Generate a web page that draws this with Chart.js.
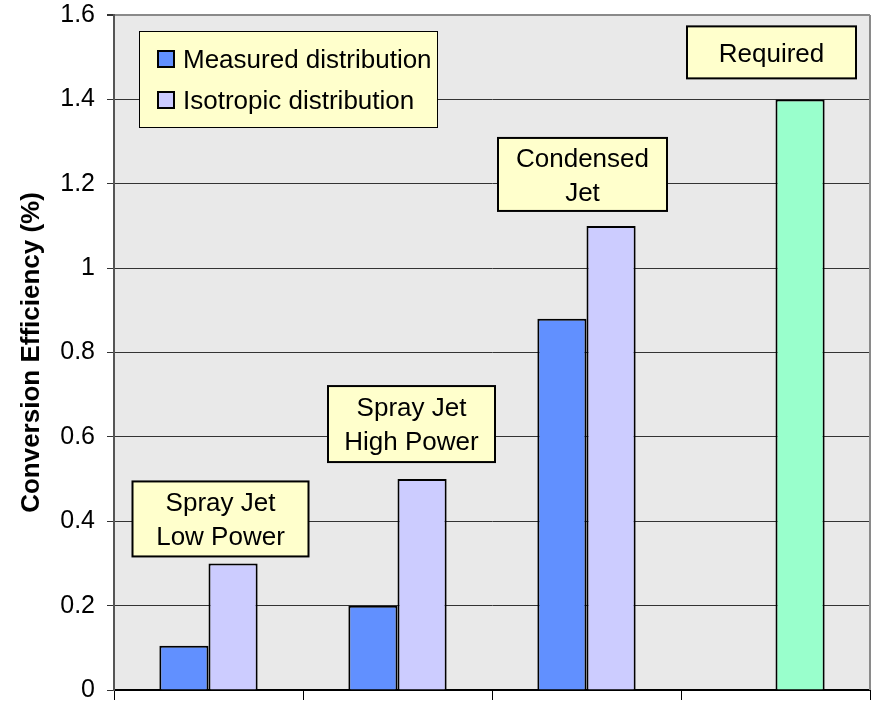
<!DOCTYPE html>
<html lang="en">
<head>
  <meta charset="UTF-8" />
  <title>Conversion Efficiency</title>
  <script src="https://cdn.jsdelivr.net/npm/chart.js"></script>
  <style>
    html, body { margin: 0; padding: 0; background: #fff; }
    #wrap { width: 872px; height: 704px; }
  </style>
</head>
<body>
  <div id="wrap"><canvas id="grafik" width="872" height="704"></canvas></div>

  <script>
    // data
    const categories = [['Spray Jet', 'Low Power'], ['Spray Jet', 'High Power'], ['Condensed', 'Jet'], ['Required']];
    const measured = [0.105, 0.2, 0.88, null];
    const isotropic = [0.3, 0.5, 1.1, 1.4];
    const seriesNames = ['Measured distribution', 'Isotropic distribution'];
    const yTicks = [0, 0.2, 0.4, 0.6, 0.8, 1, 1.2, 1.4, 1.6];

    const FONT = "'Liberation Sans', Arial, sans-serif";
    const BLUE = '#6190FF', LAVENDER = '#CCCCFF', GREEN = '#99FFCC', NOTE = '#FFFFCC';

    // background, right border, legend box and the yellow callouts
    const decor = {
      id: 'decor',
      beforeDraw(chart) {
        const { ctx, chartArea: a } = chart;
        ctx.save();
        ctx.fillStyle = '#E9E9E9';
        ctx.fillRect(a.left, a.top, a.right - a.left, a.bottom - a.top);
        ctx.restore();
      },
      afterDraw(chart, args, opts) {
        const { ctx, chartArea: a, scales } = chart;
        ctx.save();
        // right border
        ctx.strokeStyle = '#8A8A8A';
        ctx.lineWidth = 2;
        ctx.beginPath();
        ctx.moveTo(a.right, a.top);
        ctx.lineTo(a.right, a.bottom);
        ctx.stroke();

        ctx.font = '26px ' + FONT;
        ctx.textBaseline = 'middle';

        // legend
        const lx = a.left + 25, ly = a.top + 16;
        ctx.fillStyle = NOTE;
        ctx.fillRect(lx, ly, 298, 96);
        ctx.strokeStyle = '#000';
        ctx.lineWidth = 1;
        ctx.strokeRect(lx + 0.5, ly + 0.5, 298, 96);
        chart.data.datasets.forEach((ds, i) => {
          const cy = ly + 28 + i * 41;
          ctx.fillStyle = i === 0 ? BLUE : LAVENDER;
          ctx.fillRect(lx + 19, cy - 8, 16, 16);
          ctx.lineWidth = 2;
          ctx.strokeRect(lx + 19, cy - 8, 16, 16);
          ctx.fillStyle = '#000';
          ctx.textAlign = 'left';
          ctx.fillText(ds.label, lx + 44, cy + 2);
        });

        // callouts above each group
        const x = scales.x, y = scales.y;
        ctx.textAlign = 'center';
        chart.data.labels.forEach((lines, i) => {
          const o = opts.notes[i];
          const top = Math.max(measured[i] || 0, isotropic[i] || 0);
          const cx = x.getPixelForValue(i) + o.dx;
          const bottom = y.getPixelForValue(top) - o.gap;
          const h = o.h, w = o.w;
          ctx.fillStyle = NOTE;
          ctx.fillRect(cx - w / 2, bottom - h, w, h);
          ctx.strokeStyle = '#000';
          ctx.lineWidth = 2;
          ctx.strokeRect(cx - w / 2, bottom - h, w, h);
          ctx.fillStyle = '#000';
          const mid = bottom - h / 2 + 2;
          lines.forEach((t, k) => {
            ctx.fillText(t, cx, mid + (k - (lines.length - 1) / 2) * 34);
          });
        });
        ctx.restore();
      }
    };

    const ctx = document.getElementById('grafik').getContext('2d');
    new Chart(ctx, {
      type: 'bar',
      data: {
        labels: categories,
        datasets: [
          { label: seriesNames[0], data: measured, backgroundColor: BLUE, borderColor: '#000', borderWidth: 2 },
          { label: seriesNames[1], data: isotropic,
            backgroundColor: isotropic.map((v, i) => i === isotropic.length - 1 ? GREEN : LAVENDER),
            borderColor: '#000', borderWidth: 2 }
        ]
      },
      options: {
        responsive: false,
        animation: false,
        devicePixelRatio: 1,
        layout: { padding: { top: 15, right: 2, left: 0, bottom: 0 } },
        categoryPercentage: 0.52,
        barPercentage: 1,
        plugins: {
          legend: { display: false },
          tooltip: { enabled: false },
          decor: {
            notes: [
              { dx: 12, gap: 7, w: 176, h: 75 },
              { dx: 14, gap: 17, w: 167, h: 76 },
              { dx: -4, gap: 15, w: 169, h: 73 },
              { dx: -4, gap: 21, w: 169, h: 52 }
            ]
          }
        },
        scales: {
          x: {
            afterFit: s => { s.height = 14; },
            grid: { display: true, drawOnChartArea: false, offset: true, color: '#000', tickLength: 10 },
            border: { color: '#000', width: 2 },
            ticks: { display: false }
          },
          y: {
            min: 0, max: 1.6,
            afterBuildTicks: s => { s.ticks = yTicks.map(v => ({ value: v })); },
            afterFit: s => { s.width = 114; s.paddingTop = 0; s.paddingBottom = 0; },
            grid: {
              color: c => c.tick && c.tick.value === 1.6 ? '#8A8A8A' : '#333',
              lineWidth: c => c.tick && c.tick.value === 1.6 ? 2 : 1,
              tickLength: 7,
              tickColor: '#333'
            },
            border: { color: '#555', width: 2 },
            ticks: {
              color: '#000',
              padding: 12,
              font: { family: FONT, size: 25, lineHeight: 0.4 },
              callback: v => String(v)
            },
            title: {
              display: true,
              text: 'Conversion Efficiency (%)',
              color: '#000',
              font: { family: FONT, size: 26, weight: 'bold' },
              padding: { top: 16, bottom: 0 }
            }
          }
        }
      },
      plugins: [decor]
    });
  </script>
</body>
</html>
